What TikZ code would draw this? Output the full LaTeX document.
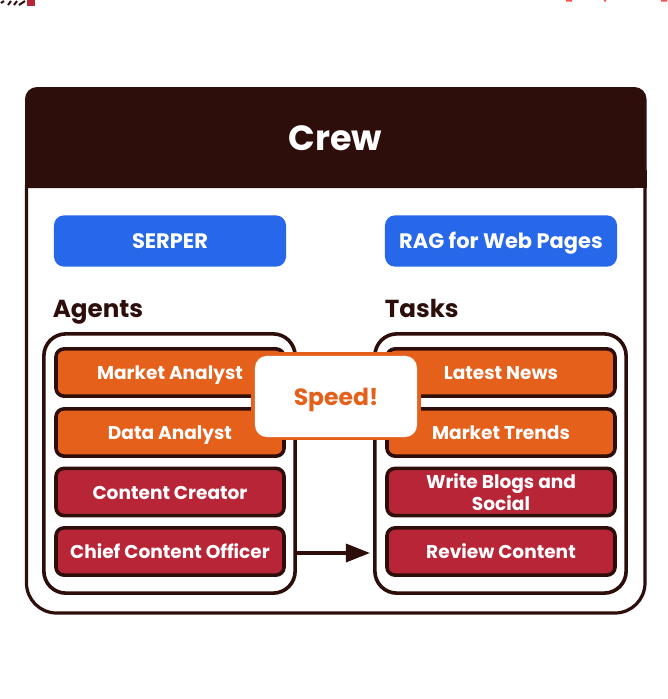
\documentclass[tikz,border=0pt]{standalone}
\usepackage{xcolor}
\usepackage{fontspec}
\setmainfont{Poppins}
\usetikzlibrary{arrows.meta}
\definecolor{crewdark}{HTML}{2E0E0B}
\definecolor{crewblue}{HTML}{2767E9}
\definecolor{crewred}{HTML}{B72537}
\definecolor{creworange}{HTML}{E4601B}
\tikzset{
  toolbox/.style={fill=crewblue,rounded corners=0.25cm,minimum width=5.8cm,minimum height=1.28cm,text=white,text height=10.4pt,text depth=0pt,font=\fontsize{14.9}{17}\selectfont\bfseries},
  itembox/.style={draw=crewdark,line width=0.09cm,rounded corners=0.2cm,minimum width=5.7cm,minimum height=1.18cm,text=white,align=center,text height=10.6pt,text depth=0pt,font=\fontsize{13.2}{15.6}\selectfont\bfseries},
  hotbox/.style={itembox,fill=creworange},
  coolbox/.style={itembox,fill=crewred},
  groupbox/.style={draw=crewdark,line width=0.09cm,rounded corners=0.55cm,minimum width=6.28cm,minimum height=6.48cm},
  headlabel/.style={anchor=base west,text=crewdark,font=\fontsize{17.5}{20}\selectfont\bfseries}
}
\begin{document}
\begin{tikzpicture}[x=0.025cm,y=-0.025cm]
    \useasboundingbox (0,0) rectangle (667,699);
    % bits of the cut off video overlay
    \fill[crewred] (27,0) rectangle (35,6);
    \draw[crewdark,line width=0.05cm] (1,3) -- (4,1) (8,5) -- (11,1) (14,5) -- (17,1) (19,5) -- (25,1);
    \fill[red!70!white] (566,0) rectangle (572,1.5) (604,0) rectangle (606,1.5) (661,0) rectangle (667,1.5);
    % crew frame and title
    \draw[crewdark,line width=0.08cm,rounded corners=0.75cm] (26.5,185) -- (26.5,613) -- (645,613) -- (645,185);
    \fill[crewdark,rounded corners=0.3cm] (25,188) -- (25,87) -- (646.5,87) -- (646.5,188) [sharp corners] -- cycle;
    \fill[crewdark] (25,170) rectangle (646.5,188);
    \node[text=white,font=\fontsize{24.9}{28}\selectfont\bfseries] (title) at (335.5,138) {Crew};
    % tools
    \node[toolbox] (serper) at (170,241) {SERPER};
    \node[toolbox] (rag) at (501,241) {RAG for Web Pages};
    % group headings
    \node[headlabel,inner sep=0pt] (agentshead) at (52.5,317) {Agents};
    \node[headlabel,inner sep=0pt] (taskshead) at (384.5,317) {Tasks};
    % group frames
    \node[groupbox] (agentsbox) at (169.5,463.5) {};
    \node[groupbox] (tasksbox) at (500.5,463.5) {};
    % agents
    \node[hotbox] (analyst) at (170,372.5) {Market Analyst};
    \node[hotbox] (data) at (170,432.5) {Data Analyst};
    \node[coolbox] (creator) at (170,492) {Content Creator};
    \node[coolbox] (chief) at (170,551.5) {Chief Content Officer};
    % tasks
    \node[hotbox] (news) at (501,372.5) {Latest News};
    \node[hotbox] (trends) at (501,432.5) {Market Trends};
    \node[coolbox,text height=,text depth=] (blogs) at (501,492) {Write Blogs and\\Social};
    \node[coolbox] (review) at (501,551.5) {Review Content};
    % the one arrow
    \coordinate (arrowend) at (370,553);
    \draw[crewdark,line width=0.08cm,-{Triangle[length=0.6cm,width=0.45cm]}] (agentsbox.east |- arrowend) -- (arrowend);
    % speed banner
    \fill[creworange] (251,352) rectangle (421,440);
    \node[fill=white,rounded corners=0.3cm,minimum width=4.05cm,minimum height=2.03cm,inner sep=0pt,text=creworange,text depth=0pt,font=\fontsize{16.7}{20}\selectfont\bfseries] (speed) at (336,396.5) {Speed!};
  \end{tikzpicture}
\end{document}
